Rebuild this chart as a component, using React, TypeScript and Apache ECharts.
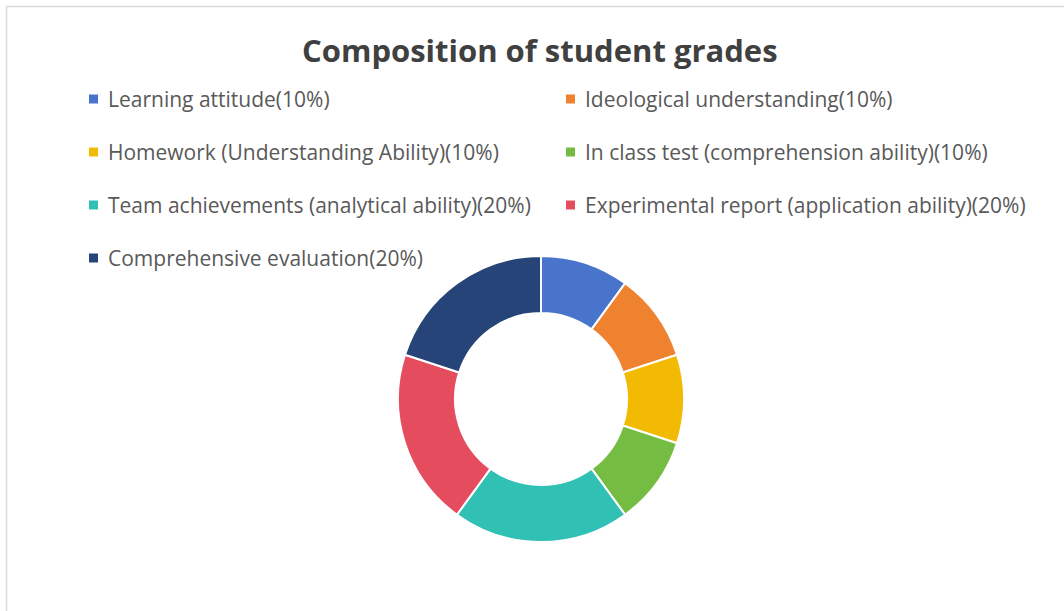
import React, { useEffect, useRef } from "react";
import * as echarts from "echarts";

const categories = [
  "Learning attitude",
  "Ideological understanding",
  "Homework (Understanding Ability)",
  "In class test (comprehension ability)",
  "Team achievements (analytical ability)",
  "Experimental report (application ability)",
  "Comprehensive evaluation",
];
const values = [10, 10, 10, 10, 20, 20, 20];
const colors = ["#4874CB", "#EE822F", "#F2BA02", "#75BD42", "#30C0B4", "#E54C5E", "#264478"];
const titleText = "Composition of student grades";

export default function App() {
  const ref = useRef<HTMLDivElement>(null);
  useEffect(() => {
    const chart = echarts.init(ref.current!, null, { renderer: "svg" });
    const valueMap: Record<string, number> = {};
    categories.forEach((c, i) => (valueMap[c] = values[i]));
    const legendCommon = {
      orient: "vertical" as const,
      icon: "rect",
      itemWidth: 11,
      itemHeight: 11,
      itemGap: 31,
      padding: 0,
      formatter: (n: string) => `${n}(${valueMap[n]}%)`,
      textStyle: { fontFamily: "Open Sans", fontSize: 21, color: "#595959", lineHeight: 22, padding: [0, 0, 0, 4] },
      selectedMode: false,
    };
    chart.setOption({
      animation: false,
      color: colors,
      title: {
        text: titleText,
        left: 302,
        top: 34,
        padding: 0,
        textStyle: { fontFamily: "Open Sans", fontWeight: "bold", fontSize: 31, color: "#404040" },
      },
      legend: [
        { ...legendCommon, left: 87, top: 88, data: categories.filter((_, i) => i % 2 === 0) },
        { ...legendCommon, left: 564, top: 88, data: categories.filter((_, i) => i % 2 === 1) },
      ],
      graphic: [
        {
          type: "polyline",
          shape: { points: [[6.5, 620], [6.5, 6.5], [1070, 6.5]] },
          style: { stroke: "#d9d9d9", lineWidth: 1.5, fill: "none" },
          silent: true,
        },
      ],
      series: [
        {
          type: "pie",
          center: [541, 399],
          radius: [86, 143],
          startAngle: 90,
          clockwise: true,
          label: { show: false },
          labelLine: { show: false },
          itemStyle: { borderColor: "#ffffff", borderWidth: 2 },
          emphasis: { disabled: true },
          data: categories.map((c, i) => ({ name: c, value: values[i] })),
        },
      ],
    });
    return () => chart.dispose();
  }, []);
  return (
    <div
      ref={ref}
      style={{ position: "fixed", left: 0, top: 0, width: 1064, height: 611, background: "#fff" }}
    />
  );
}
